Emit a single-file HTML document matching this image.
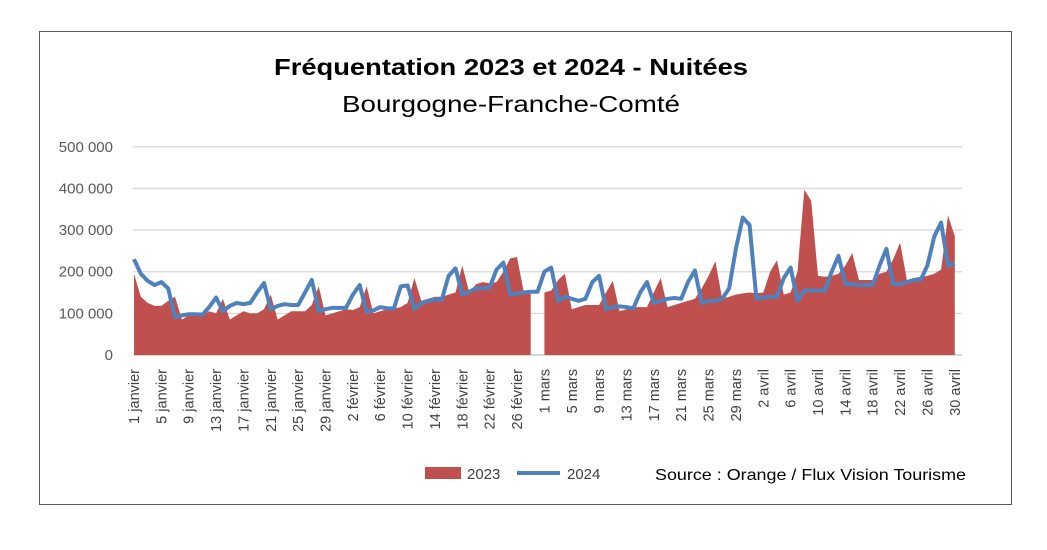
<!DOCTYPE html>
<html><head><meta charset="utf-8"><style>
body{margin:0;background:#fff;}
svg{display:block;font-family:"Liberation Sans",sans-serif;}
</style></head><body>
<svg id="s" width="1047" height="550" xmlns="http://www.w3.org/2000/svg">
<rect x="0" y="0" width="1047" height="550" fill="#fff"/>
<rect x="39.5" y="31.5" width="972" height="473" fill="#fff" stroke="#595959" stroke-width="1"/>
<text x="511" y="75" text-anchor="middle" font-size="23" font-weight="bold" fill="#000" textLength="474" lengthAdjust="spacingAndGlyphs">Fréquentation 2023 et 2024 - Nuitées</text>
<text x="511" y="112" text-anchor="middle" font-size="23" fill="#000" textLength="338" lengthAdjust="spacingAndGlyphs">Bourgogne-Franche-Comté</text>
<g id="grid"></g>
<g id="series"></g>
<g id="xl" font-size="14.5" fill="#404040"></g>
<rect x="425" y="467" width="36" height="12" fill="#c0504d"/>
<text x="467" y="479" font-size="15" fill="#404040">2023</text>
<line x1="517" y1="473" x2="560" y2="473" stroke="#4f81bd" stroke-width="4"/>
<text x="567" y="479" font-size="15" fill="#404040">2024</text>
<text x="966" y="480" text-anchor="end" font-size="16" fill="#000" textLength="311" lengthAdjust="spacingAndGlyphs">Source : Orange / Flux Vision Tourisme</text>
</svg>
<script>
const NS="http://www.w3.org/2000/svg";
function el(t,a,p,txt){const e=document.createElementNS(NS,t);for(const k in a)e.setAttribute(k,a[k]);if(txt!=null)e.textContent=txt;p.appendChild(e);return e;}
const X=i=>134+i*6.84, Y=v=>355-v*0.4164;
const grid=document.getElementById('grid');
const labs=["0","100 000","200 000","300 000","400 000","500 000"];
for(let k=0;k<6;k++){const y=Y(k*100);
 el('line',{x1:133,x2:962,y1:y,y2:y,stroke:k==0?'#bfbfbf':'#d9d9d9','stroke-width':1.3},grid);
 el('text',{x:113,y:y+5,'text-anchor':'end','font-size':15,fill:'#595959'},grid,labs[k]);}
const r=[195,140,125,118,118,130,140,85,95,100,95,105,100,135,85,95,105,100,100,110,145,85,95,105,105,105,120,165,95,100,105,110,108,115,165,100,105,110,112,115,125,185,130,135,140,140,145,150,215,150,170,175,172,175,200,232,235,150,150,null,
150,155,180,195,110,115,120,120,120,150,178,105,110,115,115,115,150,185,115,120,125,130,135,160,190,225,135,140,145,148,150,148,150,200,228,145,150,200,397,370,190,188,190,195,215,245,180,180,180,195,200,230,270,180,185,188,190,195,205,335,285];
const b=[230,195,178,168,175,160,90,95,98,98,97,115,138,105,118,125,122,125,150,173,110,118,122,120,120,150,180,105,110,113,113,113,145,168,103,107,115,112,112,165,167,110,125,130,133,133,190,208,145,152,160,160,162,205,222,145,148,150,152,152,
200,210,130,140,135,130,135,175,190,110,115,117,115,112,150,175,125,130,135,137,135,175,203,125,130,130,135,160,255,330,312,135,138,140,140,185,210,130,155,155,155,155,200,238,170,170,168,168,168,215,255,170,170,175,180,180,215,285,318,215,220];
const s=document.getElementById('series');
function area(a,b0,b1){let d=`M${X(b0)},${Y(0)}`;for(let i=b0;i<=b1;i++)d+=`L${X(i).toFixed(1)},${Y(a[i]).toFixed(1)}`;d+=`L${X(b1)},${Y(0)}Z`;el('path',{d,fill:'#c0504d'},s);}
area(r,0,58);area(r,60,120);
el('polyline',{points:b.map((v,i)=>X(i).toFixed(1)+','+Y(v).toFixed(1)).join(' '),fill:'none',stroke:'#4f81bd','stroke-width':4,'stroke-linejoin':'round'},s);
const xl=document.getElementById('xl');
const months=[["janvier",31],["février",29],["mars",31],["avril",30]];
const days=[];for(const [m,n] of months)for(let d=1;d<=n;d++)days.push(d+" "+m);
for(let i=0;i<days.length;i+=4){const x=X(i)+5;el('text',{x:x,y:369,'text-anchor':'end',transform:`rotate(-90 ${x} 369)`},xl,days[i]);}
</script>
</body></html>
